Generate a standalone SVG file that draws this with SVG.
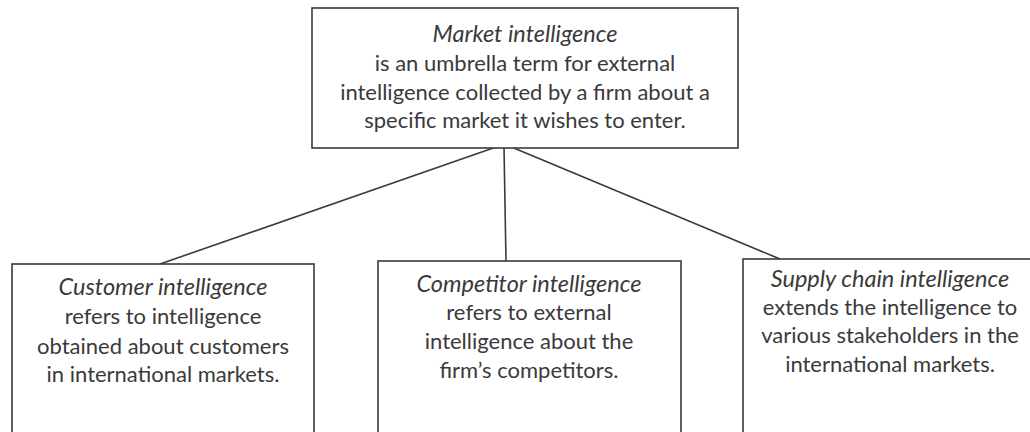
<svg xmlns="http://www.w3.org/2000/svg" width="1030" height="432" viewBox="0 0 1030 432">
  <style>
    .box { fill: #ffffff; stroke: #3a3a3a; stroke-width: 1.6; }
    .link { stroke: #3a3a3a; stroke-width: 1.6; fill: none; }
    text { font-family: Lato, "Liberation Sans", sans-serif; font-size: 22px; fill: #3a3a3a; text-anchor: middle; }
    .title { font-style: italic; font-size: 23.5px; }
  </style>
  <rect width="1030" height="432" fill="#ffffff"/>

  <g id="connectors">
    <line class="link" x1="499" y1="146" x2="160" y2="264"/>
    <line class="link" x1="504" y1="147" x2="506" y2="261"/>
    <line class="link" x1="509" y1="146" x2="780" y2="259"/>
  </g>

  <g id="market-intelligence">
    <rect class="box" x="312" y="8" width="426" height="140"/>
    <text x="525" y="42" class="title">Market intelligence</text>
    <text x="525" y="71">is an umbrella term for external</text>
    <text x="525" y="100">intelligence collected by a firm about a</text>
    <text x="525" y="128">specific market it wishes to enter.</text>
  </g>

  <g id="customer-intelligence">
    <rect class="box" x="12" y="264" width="302" height="180"/>
    <text x="163" y="295" class="title">Customer intelligence</text>
    <text x="163" y="324">refers to intelligence</text>
    <text x="163" y="354">obtained about customers</text>
    <text x="163" y="382">in international markets.</text>
  </g>

  <g id="competitor-intelligence">
    <rect class="box" x="378" y="261" width="303" height="183"/>
    <text x="529" y="292" class="title">Competitor intelligence</text>
    <text x="529" y="320">refers to external</text>
    <text x="529" y="349">intelligence about the</text>
    <text x="529" y="378">firm’s competitors.</text>
  </g>

  <g id="supply-chain-intelligence">
    <rect class="box" x="743" y="259" width="300" height="185"/>
    <text x="890" y="287" class="title">Supply chain intelligence</text>
    <text x="890" y="315">extends the intelligence to</text>
    <text x="890" y="343">various stakeholders in the</text>
    <text x="890" y="372">international markets.</text>
  </g>
</svg>
